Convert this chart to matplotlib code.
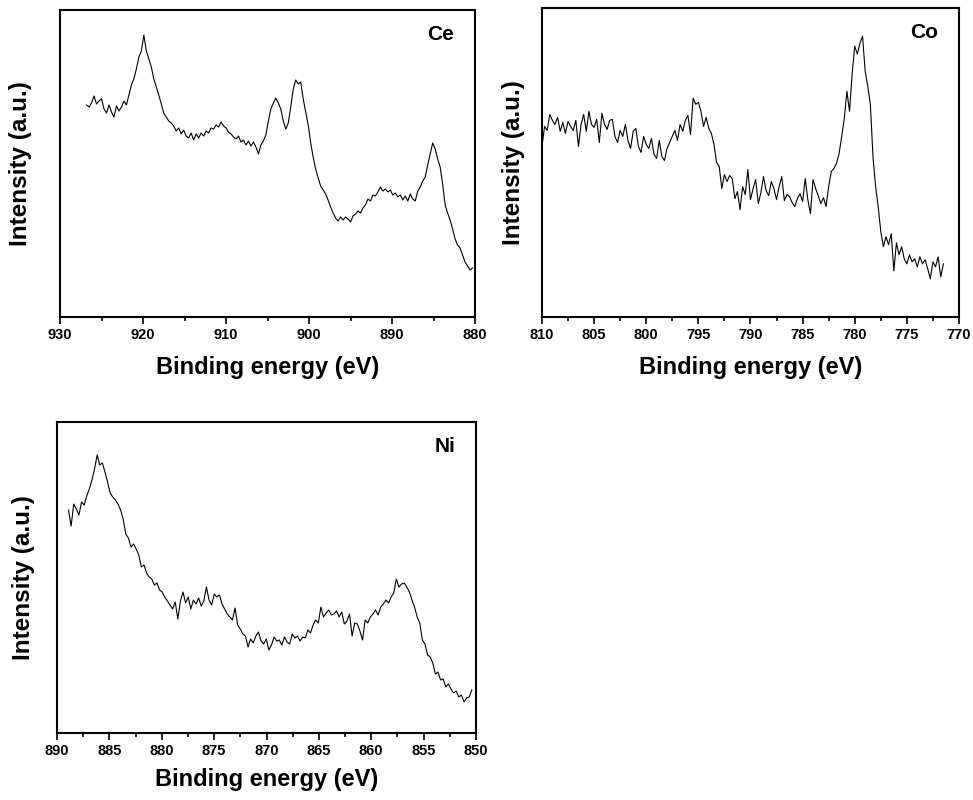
import numpy as np
import matplotlib.pyplot as plt
from matplotlib.ticker import MultipleLocator

plt.rcParams['font.family'] = ['Liberation Sans', 'DejaVu Sans']
plt.rcParams['font.weight'] = 'bold'

# Ce 3d spectrum (926.8 -> 880.3 eV)
ce_y = [212, 210, 214, 221, 213, 216, 218, 208, 204, 212, 205, 200, 211, 206, 210, 216,
        212, 222, 232, 238, 248, 260, 266, 282, 266, 258, 250, 238, 230, 222, 213, 204,
        200, 196, 194, 191, 186, 189, 183, 187, 181, 179, 184, 177, 183, 179, 184, 181,
        186, 184, 189, 188, 192, 190, 195, 191, 189, 185, 183, 180, 178, 181, 175, 177,
        172, 176, 171, 175, 170, 163, 172, 176, 182, 196, 208, 214, 219, 214, 208, 196,
        188, 194, 210, 228, 237, 233, 235, 218, 205, 192, 174, 160, 148, 139, 131, 127,
        123, 117, 110, 104, 99, 96, 100, 97, 100, 98, 95, 101, 103, 106, 104, 109,
        112, 118, 116, 122, 121, 125, 130, 126, 128, 125, 127, 122, 124, 120, 122, 117,
        121, 116, 123, 118, 116, 126, 130, 136, 140, 152, 163, 174, 168, 158, 150, 133,
        112, 104, 97, 88, 78, 72, 69, 62, 55, 51, 47, 49]
ce_x = np.linspace(926.8, 880.3, len(ce_y))

# Co 2p spectrum (810.0 -> 771.5 eV)
co_y = [170, 190, 186, 202, 196, 192, 199, 185, 194, 183, 195, 190, 186, 196, 170, 192,
        202, 185, 205, 192, 189, 197, 174, 203, 192, 187, 196, 197, 180, 174, 186, 180,
        192, 176, 168, 185, 188, 170, 164, 180, 172, 168, 178, 162, 158, 176, 160, 156,
        168, 174, 180, 186, 176, 192, 185, 196, 201, 182, 218, 212, 214, 205, 190, 199,
        188, 183, 172, 154, 150, 128, 142, 135, 141, 138, 118, 125, 107, 130, 122, 147,
        117, 128, 137, 113, 124, 140, 126, 121, 135, 128, 117, 130, 140, 116, 122, 120,
        114, 110, 118, 123, 115, 138, 117, 103, 137, 128, 121, 113, 119, 110, 130, 145,
        148, 153, 163, 180, 198, 225, 205, 242, 270, 262, 273, 280, 245, 230, 212, 160,
        130, 110, 85, 70, 80, 72, 83, 46, 74, 62, 70, 58, 53, 62, 55, 58,
        50, 60, 53, 57, 48, 38, 55, 50, 60, 40, 53]
co_x = np.linspace(810.0, 771.5, len(co_y))

# Ni 2p spectrum (888.9 -> 850.4 eV)
ni_y = [223, 207, 229, 224, 218, 231, 228, 237, 244, 253, 264, 278, 268, 270, 261, 251,
        240, 236, 233, 229, 223, 214, 199, 195, 186, 189, 184, 178, 166, 168, 160, 156,
        154, 148, 150, 143, 141, 136, 132, 128, 124, 131, 114, 132, 141, 130, 136, 124,
        133, 129, 135, 127, 132, 146, 133, 128, 139, 136, 138, 129, 124, 119, 116, 113,
        125, 108, 104, 99, 97, 86, 94, 90, 97, 101, 92, 89, 94, 83, 88, 96,
        92, 93, 88, 96, 91, 89, 99, 95, 97, 92, 96, 95, 103, 100, 108, 113,
        110, 126, 116, 120, 123, 118, 119, 122, 116, 121, 109, 112, 119, 97, 110, 109,
        102, 93, 113, 110, 116, 119, 123, 118, 126, 129, 133, 130, 136, 140, 154, 146,
        149, 150, 146, 141, 133, 126, 116, 110, 93, 89, 78, 76, 70, 59, 61, 53,
        54, 46, 49, 44, 40, 42, 36, 38, 31, 35, 36, 43]
ni_x = np.linspace(888.9, 850.4, len(ni_y))

panels = [
    (ce_x, ce_y, 'Ce', (930, 880), 10, 307, [0.0617, 0.60375, 0.4265, 0.38375], 20, 10),
    (co_x, co_y, 'Co', (810, 770), 5, 308, [0.557, 0.60375, 0.4286, 0.38625], 12, 10),
    (ni_x, ni_y, 'Ni', (890, 850), 5, 311, [0.0586, 0.08375, 0.4306, 0.38875], 16, 7),
]

fig = plt.figure(figsize=(9.73, 8), dpi=100)
for x, y, name, xlim, step, ytop, pos, ypad, xpad in panels:
    ax = fig.add_axes(pos)
    ax.plot(x, y, color='black', lw=0.8)
    ax.set_xlim(*xlim)
    ax.set_ylim(0, ytop)
    ax.xaxis.set_major_locator(MultipleLocator(step))
    ax.xaxis.set_minor_locator(MultipleLocator(step / 2))
    ax.set_yticks([])
    ax.tick_params(axis='x', which='major', direction='out', length=5, width=1.2,
                   labelsize=10.5, pad=3)
    ax.tick_params(axis='x', which='minor', direction='out', length=3, width=1.2)
    for lbl in ax.get_xticklabels():
        lbl.set_fontweight('bold')
    for sp in ax.spines.values():
        sp.set_linewidth(1.5)
    ax.set_xlabel('Binding energy (eV)', fontsize=17, fontweight='bold', labelpad=xpad)
    ax.set_ylabel('Intensity (a.u.)', fontsize=17.5, fontweight='bold', labelpad=ypad)
    ax.text(0.95, 0.92, name, transform=ax.transAxes, ha='right', va='center',
            fontsize=15, fontweight='bold')

fig.savefig('out.png', dpi=100)
